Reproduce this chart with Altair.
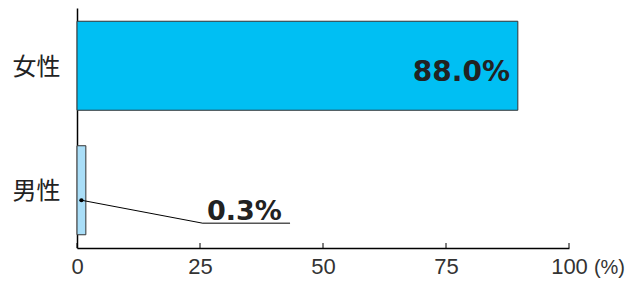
import altair as alt
import pandas as pd

categories = ["女性", "男性"]
bar_values = [89.6, 1.8]
label_texts = ["88.0%", "0.3%"]
bar_colors = ["#00BFF3", "#A9DEF8"]
tick_values = [0, 25, 50, 75, 100]

df = pd.DataFrame({"cat": categories, "value": bar_values, "label": label_texts, "color": bar_colors})
ticks_df = pd.DataFrame({"t": tick_values})

W, H = 492, 240

x_scale = alt.Scale(domain=[0, 100], nice=False, zero=True)
y_scale = alt.Scale(domain=categories, paddingInner=0.285, paddingOuter=0.1064)
y_enc = alt.Y("cat:N", scale=y_scale, sort=categories)

bars = alt.Chart(df).mark_bar(stroke="#333333", strokeWidth=1, cornerRadius=0).encode(
    x=alt.X("value:Q", scale=x_scale,
            axis=alt.Axis(values=tick_values, ticks=False, grid=False, title=None,
                          labelFontSize=22, labelFont="Liberation Sans", labelColor="#333333",
                          labelPadding=8, labelFlush=False, labelOverlap=False,
                          domainColor="#000000", domainWidth=1.5)),
    y=alt.Y("cat:N", scale=y_scale, sort=categories,
            axis=alt.Axis(ticks=False, title=None, labelFontSize=24, labelFont="Noto Sans CJK JP",
                          labelColor="#222222", labelPadding=17, labelBaseline="middle", labelOffset=2,
                          domainColor="#000000", domainWidth=1.5)),
    color=alt.Color("color:N", scale=None),
)

tick_marks = alt.Chart(ticks_df).mark_rule(color="#000000", strokeWidth=1).encode(
    x=alt.X("t:Q", scale=x_scale),
    y=alt.value(H - 5),
    y2=alt.value(H),
)

big_label = alt.Chart(df[df.cat == "女性"]).mark_text(
    align="right", baseline="alphabetic", dy=15, fontSize=28, fontWeight="bold",
    font="DejaVu Sans", color="#222222"
).encode(
    x=alt.datum(88.0),
    y=y_enc,
    text="label:N",
)

small_label = alt.Chart(df[df.cat == "男性"]).mark_text(
    align="left", baseline="alphabetic", dy=30, fontSize=27, fontWeight="bold",
    font="DejaVu Sans", color="#222222"
).encode(
    x=alt.datum(26.4),
    y=y_enc,
    text="label:N",
)

underline = alt.Chart(df[df.cat == "男性"]).mark_rule(
    color="#555555", strokeWidth=1.5, yOffset=33, y2Offset=33
).encode(
    x=alt.datum(25.6),
    x2=alt.datum(43.3),
    y=y_enc,
    y2="cat:N",
)

leader = alt.Chart(df[df.cat == "男性"]).mark_rule(
    color="#000000", strokeWidth=1, yOffset=10, y2Offset=33
).encode(
    x=alt.datum(0.9),
    x2=alt.datum(25.6),
    y=y_enc,
    y2="cat:N",
)

dot = alt.Chart(df[df.cat == "男性"]).mark_point(
    filled=True, color="#000000", size=18, opacity=1, yOffset=10
).encode(
    x=alt.datum(0.9),
    y=y_enc,
)

unit = alt.Chart(ticks_df.head(1)).mark_text(
    align="right", baseline="alphabetic", dx=56, fontSize=20, font="Liberation Sans", color="#333333"
).encode(
    x=alt.datum(100),
    y=alt.value(H + 26),
    text=alt.value("(%)"),
)

chart = alt.layer(bars, tick_marks, big_label, small_label, underline, leader, dot, unit).properties(
    width=W, height=H,
    background="white",
    autosize=alt.AutoSizeParams(type="none"),
    padding={"left": 69, "top": 0, "right": 57, "bottom": 30},
).configure_view(stroke=None)

chart.save("out.html", embed_options={"renderer": "svg", "actions": False})
